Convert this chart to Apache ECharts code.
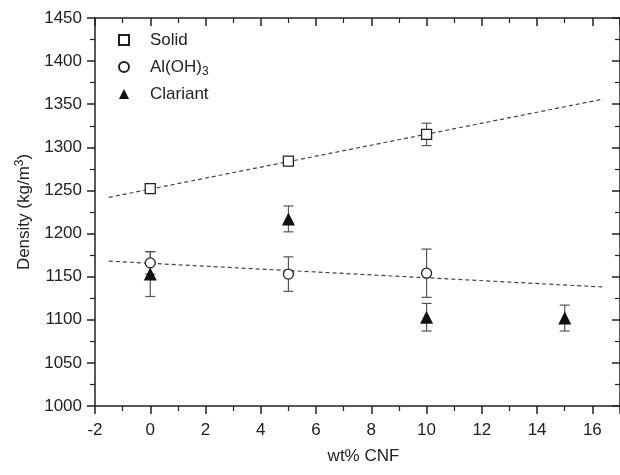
<!DOCTYPE html>
<html>
<head>
<meta charset="utf-8">
<script src="https://cdn.jsdelivr.net/npm/echarts@6/dist/echarts.min.js"></script>
<style>
html, body { margin: 0; padding: 0; background: #fff; }
#chart { width: 620px; height: 475px; }
</style>
</head>
<body>
<div id="chart"></div>
<script>
// data
var solidX = [0, 5, 10];
var solidY = [1252, 1284, 1315];
var solidErr = [0, 3, 13];

var alX = [0, 5, 10];
var alY = [1166, 1153, 1154];
var alErr = [13, 20, 28];

var clarX = [0, 5, 10, 15];
var clarY = [1153, 1217, 1103, 1102];
var clarErr = [26, 15, 16, 15];

// dashed fit lines (end points)
var fitX = [-1.5, 16.4];
var fitSolid = [1242, 1356];
var fitAl = [1168, 1138];

var font = 'Liberation Sans, Arial, sans-serif';
var ink = '#222';

function pts(xs, ys) {
  var out = [];
  for (var i = 0; i < xs.length; i++) out.push([xs[i], ys[i]]);
  return out;
}
function errs(xs, ys, es) {
  var out = [];
  for (var i = 0; i < xs.length; i++) {
    if (es[i] > 0) out.push([xs[i], ys[i] - es[i], ys[i] + es[i]]);
  }
  return out;
}

function errorBar(params, api) {
  var x = api.value(0);
  var lo = api.coord([x, api.value(1)]);
  var hi = api.coord([x, api.value(2)]);
  var w = 5;
  var st = { stroke: '#555', lineWidth: 1.2 };
  return {
    type: 'group',
    children: [
      { type: 'line', shape: { x1: lo[0], y1: lo[1], x2: hi[0], y2: hi[1] }, style: st },
      { type: 'line', shape: { x1: lo[0] - w, y1: lo[1], x2: lo[0] + w, y2: lo[1] }, style: st },
      { type: 'line', shape: { x1: hi[0] - w, y1: hi[1], x2: hi[0] + w, y2: hi[1] }, style: st }
    ]
  };
}

var myChart = echarts.init(document.getElementById('chart'));

var axisLine = { show: true, onZero: false, lineStyle: { color: ink, width: 1.5 } };
var plain = function (v) { return String(v); };

var option = {
  backgroundColor: '#fff',
  animation: false,
  textStyle: { fontFamily: font },
  grid: { left: 95, top: 18, width: 528, height: 388 },
  legend: {
    orient: 'vertical',
    left: 113,
    top: 26,
    itemWidth: 10,
    itemHeight: 10,
    itemGap: 7,
    data: ['Solid', 'Al(OH)3', 'Clariant'],
    formatter: function (name) {
      return name === 'Al(OH)3' ? 'Al(OH){sub|3}' : name;
    },
    textStyle: {
      fontSize: 17, color: ink, fontFamily: font, padding: [0, 0, 0, 16], lineHeight: 18,
      rich: { sub: { fontSize: 12, fontFamily: font, color: ink, lineHeight: 18, padding: [10, 0, 0, 0] } }
    }
  },
  xAxis: [{
    type: 'value', min: -2, max: 17, interval: 2,
    name: 'wt% CNF', nameLocation: 'middle', nameGap: 42,
    nameTextStyle: { fontSize: 17, color: ink, fontFamily: font, padding: [0, 0, 0, 12] },
    axisLine: axisLine,
    axisTick: { show: true, length: 8, lineStyle: { color: ink, width: 1.5 } },
    minorTick: { show: true, splitNumber: 2, length: 5, lineStyle: { color: ink, width: 1.2 } },
    axisLabel: { fontSize: 17, color: ink, margin: 16, showMaxLabel: false, formatter: plain },
    splitLine: { show: false }
  }, {
    type: 'value', min: -2, max: 17, interval: 2, position: 'top',
    axisLine: axisLine,
    axisTick: { show: true, inside: true, length: 8, lineStyle: { color: ink, width: 1.5 } },
    minorTick: { show: true, splitNumber: 2, length: 5, lineStyle: { color: ink, width: 1.2 } },
    axisLabel: { show: false },
    splitLine: { show: false }
  }],
  yAxis: [{
    type: 'value', min: 1000, max: 1450, interval: 50,
    name: 'Density (kg/m{sup|3})', nameLocation: 'middle', nameGap: 58,
    nameTextStyle: {
      fontSize: 17, color: ink, fontFamily: font,
      rich: { sup: { fontSize: 12, fontFamily: font, color: ink, padding: [0, 0, 10, 0] } }
    },
    axisLine: axisLine,
    axisTick: { show: true, length: 8, lineStyle: { color: ink, width: 1.5 } },
    minorTick: { show: true, splitNumber: 2, length: 5, lineStyle: { color: ink, width: 1.2 } },
    axisLabel: { fontSize: 17, color: ink, margin: 13, formatter: plain },
    splitLine: { show: false }
  }, {
    type: 'value', min: 1000, max: 1450, interval: 50, position: 'right',
    axisLine: axisLine,
    axisTick: { show: true, inside: true, length: 8, lineStyle: { color: ink, width: 1.5 } },
    minorTick: { show: true, splitNumber: 2, length: 5, lineStyle: { color: ink, width: 1.2 } },
    axisLabel: { show: false },
    splitLine: { show: false }
  }],
  series: [
    {
      name: 'fitSolid', type: 'line', data: pts(fitX, fitSolid), symbol: 'none',
      lineStyle: { color: '#444', width: 1.2, type: [4, 3] }, z: 1, silent: true
    },
    {
      name: 'fitAl', type: 'line', data: pts(fitX, fitAl), symbol: 'none',
      lineStyle: { color: '#444', width: 1.2, type: [4, 3] }, z: 1, silent: true
    },
    { type: 'custom', renderItem: errorBar, data: errs(solidX, solidY, solidErr), z: 2 },
    { type: 'custom', renderItem: errorBar, data: errs(alX, alY, alErr), z: 2 },
    { type: 'custom', renderItem: errorBar, data: errs(clarX, clarY, clarErr), z: 2 },
    {
      name: 'Solid', type: 'scatter', data: pts(solidX, solidY),
      symbol: 'rect', symbolSize: 10,
      itemStyle: { color: '#fff', borderColor: ink, borderWidth: 1.3, opacity: 1 }, z: 3
    },
    {
      name: 'Al(OH)3', type: 'scatter', data: pts(alX, alY),
      symbol: 'circle', symbolSize: 10,
      itemStyle: { color: '#fff', borderColor: ink, borderWidth: 1.3, opacity: 1 }, z: 3
    },
    {
      name: 'Clariant', type: 'scatter', data: pts(clarX, clarY),
      symbol: 'triangle', symbolSize: 13,
      itemStyle: { color: '#111', opacity: 1 }, z: 4
    }
  ]
};

myChart.setOption(option);
</script>
</body>
</html>
